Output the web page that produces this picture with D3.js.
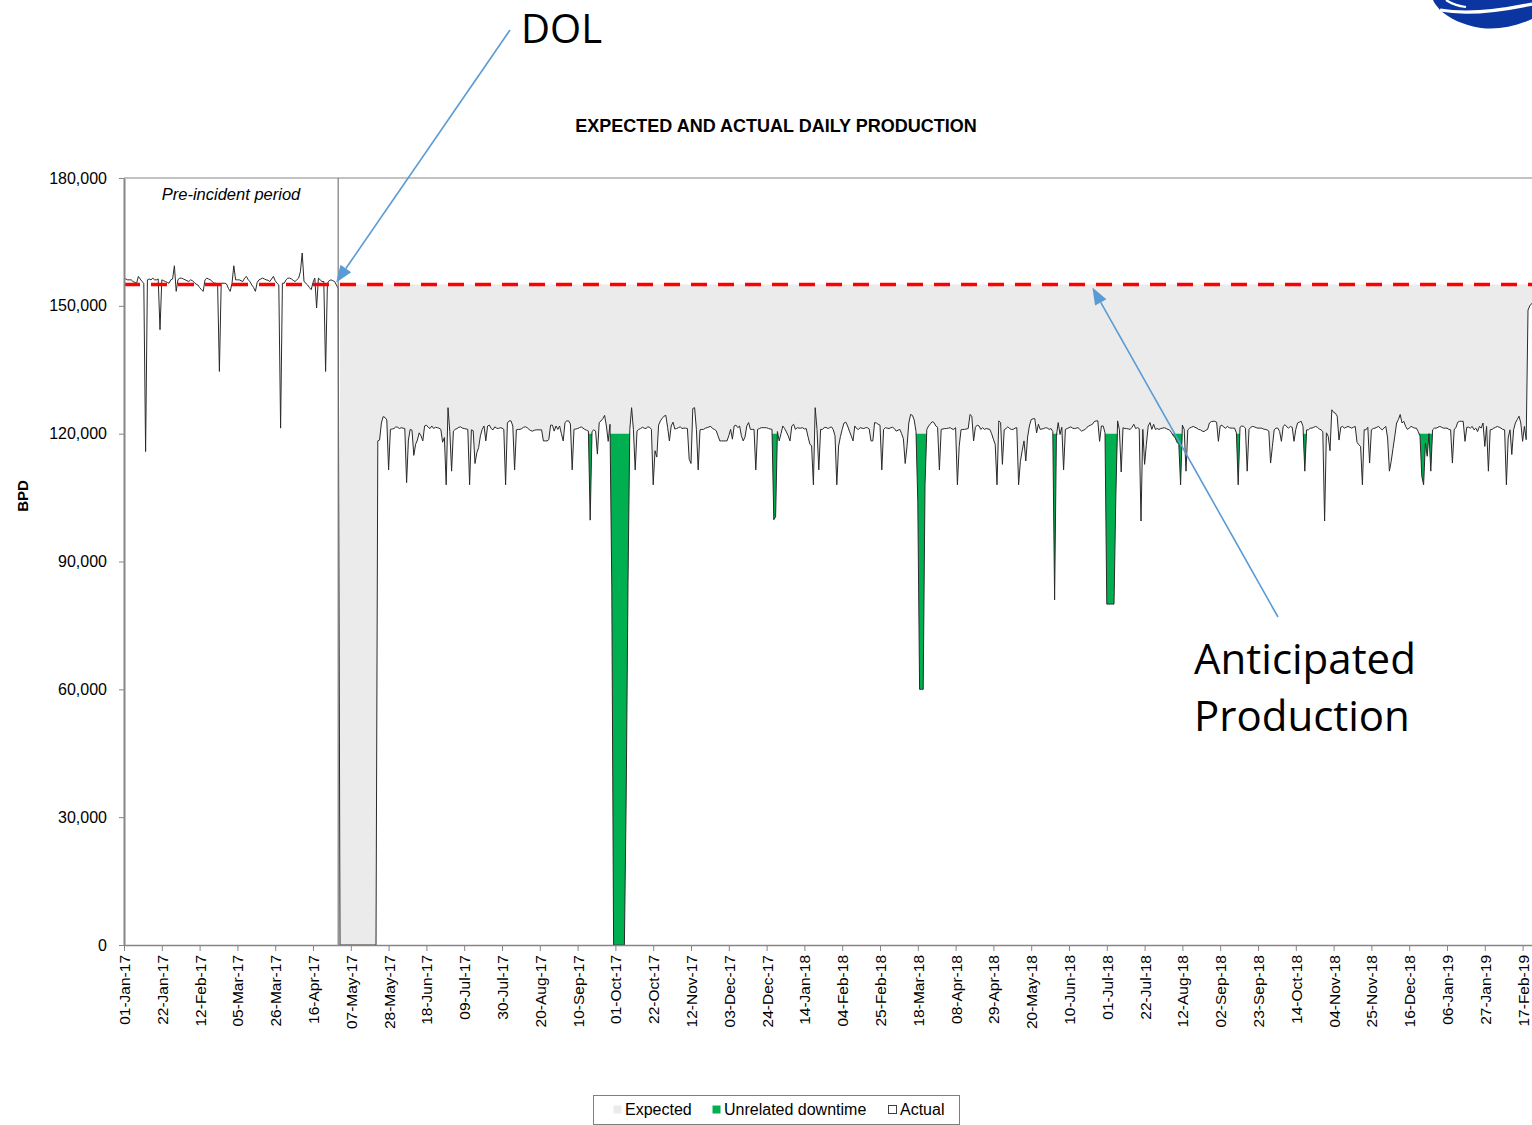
<!DOCTYPE html>
<html>
<head>
<meta charset="utf-8">
<script src="https://cdn.jsdelivr.net/npm/d3@7"></script>
<style>
  body { margin: 0; background: #fff; }
  svg { display: block; }
  text { font-family: "Liberation Sans", Arial, sans-serif; fill: #000; }
</style>
</head>
<body>
<svg id="chart" width="1532" height="1125"></svg>
<script>
// ---- data ----------------------------------------------------------------
const startDate = "01-Jan-17";

// Actual daily production, thousand barrels per day, one value per day from startDate
const actualKbpd = [
  156.5,156.3,156.1,156.1,156.1,155.7,155.5,155.3,156.9,156.3,155.7,155.3,115.8,156.1,156.3,156.1,156.5,156.1,156.1,156.3,
  144.4,156.1,155.9,155.7,155.5,155.3,156.1,156.3,159.4,153.4,156.2,156.5,156.5,156.3,156.1,155.9,155.7,156.1,155.9,155.5,
  155.1,154.9,154.3,153.8,153.4,156.1,156.5,156.3,156.1,155.7,155.3,155.3,155.1,134.6,155.3,155.3,155.3,155.1,154.1,153.4,
  155.3,159.4,156.1,156.1,156.1,155.9,155.7,156.5,156.9,156.1,155.7,154.9,154.3,153.4,155.5,156.1,156.3,156.5,156.3,156.1,
  156.0,155.7,156.3,156.9,155.9,155.3,154.9,121.3,155.3,155.3,156.1,156.5,156.5,156.3,156.0,155.7,156.1,156.5,158.0,162.4,
  155.7,155.3,154.9,154.3,153.8,155.5,156.5,149.5,156.5,156.1,155.7,155.7,134.6,155.3,155.9,156.1,155.9,155.7,154.9,154.1,
  0,0,0,0,0,0,0,0,0,0,0,0,0,0,0,0,0,0,0,0,0,
  118.3,118.5,122.5,124.0,123.8,123.2,111.5,121.0,121.1,121.2,121.6,121.5,121.2,121.4,121.3,121.2,108.5,118.5,121.0,120.8,
  114.9,117.5,118.5,120.2,119.5,118.3,121.8,122.0,121.5,121.2,121.8,121.2,121.5,121.4,121.3,121.0,118.0,119.1,108.0,126.1,
  120.5,111.2,120.6,121.0,121.2,121.5,121.6,121.3,121.2,121.1,121.0,108.0,120.9,120.7,113.0,115.5,116.7,119.5,121.0,121.8,
  118.3,121.8,122.0,121.2,120.9,121.6,121.3,121.2,121.4,121.3,121.0,108.0,122.5,123.0,123.0,121.8,111.5,120.9,121.0,121.0,
  121.2,121.5,121.6,121.4,121.0,120.7,120.6,120.8,120.9,120.9,120.9,120.9,118.3,118.3,118.3,118.6,122.0,122.0,120.6,121.8,
  121.0,121.8,120.0,118.3,122.6,123.0,123.0,122.3,111.5,121.0,121.1,121.2,121.4,121.6,121.3,121.0,120.8,120.6,99.7,120.5,
  120.9,120.6,115.2,122.6,123.0,123.5,124.3,121.8,118.2,122.2,84.0,0,0,0,0,0,0,0,35.0,85.0,
  121.0,126.1,121.0,111.5,120.6,121.0,121.2,121.5,121.3,121.2,121.6,121.5,121.0,108.0,116.0,114.5,122.0,123.0,123.6,124.1,
  124.3,121.5,118.3,121.8,122.7,121.1,121.2,121.4,121.6,121.2,121.3,121.3,121.2,114.0,113.0,125.9,126.1,121.0,111.5,120.9,
  121.0,121.0,121.3,121.4,121.6,121.7,121.2,121.0,120.7,119.5,118.3,118.3,118.3,118.3,118.3,119.5,121.0,118.7,121.8,122.0,
  121.4,121.8,119.5,118.3,119.2,121.8,122.6,121.0,121.0,121.0,111.5,121.0,121.2,121.4,121.4,121.4,121.4,121.2,121.1,121.0,
  99.8,100.5,120.5,118.3,120.0,121.8,121.2,120.4,119.5,118.3,121.8,122.2,121.0,121.4,121.3,121.3,121.4,121.1,121.2,119.3,
  117.6,117.1,108.0,126.1,121.0,111.5,121.0,121.0,121.4,121.5,121.2,121.4,121.6,121.0,119.5,108.0,117.1,119.3,121.0,122.5,
  122.7,121.8,120.6,119.5,118.3,121.8,121.2,121.0,121.4,121.3,121.2,121.4,121.4,121.1,118.3,118.3,122.6,122.5,122.2,122.0,
  111.5,121.0,121.4,121.3,121.2,121.4,121.5,121.2,120.6,120.8,121.0,120.0,118.8,113.0,117.0,122.5,124.5,124.3,123.2,120.5,
  104.0,60.0,60.0,60.0,108.0,121.0,121.8,122.3,122.8,122.6,121.8,121.5,111.5,121.0,121.1,121.2,121.2,121.3,121.4,121.1,
  121.0,121.4,108.0,117.0,120.9,121.0,121.0,121.1,121.2,124.5,124.1,118.3,121.5,122.0,121.8,121.0,121.4,121.0,121.2,121.1,
  121.0,120.0,118.7,117.5,108.0,123.0,122.6,112.8,120.9,121.2,121.6,121.2,121.0,121.0,121.3,121.4,108.0,113.5,116.0,118.3,
  113.6,119.2,121.8,123.3,123.5,123.5,120.2,122.2,121.0,121.1,121.2,121.4,121.3,121.0,121.2,120.5,81.0,119.5,122.6,119.8,
  121.5,111.5,121.0,121.2,121.4,121.6,121.3,121.2,121.3,121.4,121.0,120.6,120.8,121.0,121.5,121.8,122.0,122.2,122.8,123.0,
  123.0,118.2,121.8,121.8,120.2,80.0,80.0,80.0,80.0,80.0,105.0,123.0,120.9,111.0,121.4,121.2,121.2,121.1,121.0,121.5,
  122.2,121.2,121.4,121.2,99.5,121.0,112.8,117.5,121.8,122.6,121.0,122.2,121.0,121.2,121.0,121.2,121.3,121.4,121.2,121.0,
  120.8,120.2,119.5,119.0,118.0,117.5,108.0,122.0,121.0,111.2,120.9,121.3,121.5,121.7,121.5,121.3,121.0,120.9,120.6,120.5,
  120.8,121.0,122.5,122.8,122.9,122.9,122.7,118.2,121.8,122.0,121.5,121.3,121.7,121.4,121.3,121.3,121.3,120.2,108.0,121.5,
  121.8,121.7,121.3,111.2,121.0,121.5,121.7,121.6,121.4,121.3,121.3,121.3,121.1,121.0,120.9,120.6,113.1,117.0,120.9,121.3,
  121.3,120.5,118.2,121.7,122.1,121.6,121.3,121.7,121.5,118.2,121.0,122.5,122.7,122.9,121.7,111.2,120.9,120.9,121.3,121.3,
  121.5,121.7,121.5,121.1,120.9,120.5,99.5,120.2,119.4,116.0,125.6,125.0,124.8,124.1,118.5,121.5,121.7,121.3,121.5,121.7,
  121.5,121.3,121.5,121.7,118.0,117.4,117.0,108.0,120.9,120.9,121.5,113.1,120.9,121.2,121.3,121.5,121.7,121.2,120.9,121.3,
  121.7,119.0,111.2,113.5,116.5,119.4,122.5,123.3,124.5,122.5,122.9,121.7,121.0,121.3,121.7,121.5,121.3,121.3,120.5,119.5,
  110.0,108.0,117.8,114.7,120.0,111.2,120.9,121.3,121.3,121.5,121.7,121.5,121.3,121.3,121.3,121.0,120.9,113.1,120.9,121.5,
  122.7,122.9,122.9,122.9,118.2,121.5,121.5,121.3,121.7,120.9,121.3,120.5,121.7,121.3,122.5,117.0,121.7,111.2,120.9,121.0,
  121.3,121.5,121.7,121.5,121.3,121.0,120.9,108.0,119.0,120.9,115.1,120.9,122.5,123.3,124.1,122.5,118.2,121.7,118.6,149.0,
  150.0,150.5,151.0
];

const expectedBpd = 155000;        // expected rate after the incident
const anticipatedBpd = 155000;     // anticipated production (dashed)
const downtimeCeilingBpd = 120000; // level from which unrelated downtime is counted
const preIncidentEnd = "30-Apr-17";
const incidentDate = "01-May-17";

// Periods of downtime not related to the incident
const unrelatedDowntimeSpans = [
  ["16-Sep-17", "18-Sep-17"],
  ["28-Sep-17", "09-Oct-17"],
  ["27-Dec-17", "30-Dec-17"],
  ["17-Mar-18", "23-Mar-18"],
  ["01-Jun-18", "04-Jun-18"],
  ["30-Jun-18", "07-Jul-18"],
  ["05-Aug-18", "12-Aug-18"],
  ["11-Sep-18", "13-Sep-18"],
  ["18-Oct-18", "20-Oct-18"],
  ["20-Dec-18", "29-Dec-18"]
];

const xTickLabels = [
  "01-Jan-17","22-Jan-17","12-Feb-17","05-Mar-17","26-Mar-17","16-Apr-17","07-May-17","28-May-17",
  "18-Jun-17","09-Jul-17","30-Jul-17","20-Aug-17","10-Sep-17","01-Oct-17","22-Oct-17","12-Nov-17",
  "03-Dec-17","24-Dec-17","14-Jan-18","04-Feb-18","25-Feb-18","18-Mar-18","08-Apr-18","29-Apr-18",
  "20-May-18","10-Jun-18","01-Jul-18","22-Jul-18","12-Aug-18","02-Sep-18","23-Sep-18","14-Oct-18",
  "04-Nov-18","25-Nov-18","16-Dec-18","06-Jan-19","27-Jan-19","17-Feb-19"
];
const yTickValues = [0, 30000, 60000, 90000, 120000, 150000, 180000];

const legendItems = [
  { label: "Expected", fill: "#ebebeb", stroke: "none" },
  { label: "Unrelated downtime", fill: "#00b050", stroke: "none" },
  { label: "Actual", fill: "#ffffff", stroke: "#404040" }
];

// ---- setup ---------------------------------------------------------------
const parse = d3.utcParse("%d-%b-%y");
const fmtDate = d3.utcFormat("%d-%b-%y");
const t0 = parse(startDate);
const series = actualKbpd.map((v, i) => ({ date: d3.utcDay.offset(t0, i), bpd: v * 1000 }));

const svg = d3.select("#chart");
const W = 1532, H = 1125;
const plot = { left: 124, right: 1532, top: 178, bottom: 945 };
const GRID = "#868686";
const GREEN = "#00b050";
const GREY_FILL = "#ebebeb";

svg.append("rect").attr("width", W).attr("height", H).attr("fill", "#fff");

const tickDates = xTickLabels.map(parse);
const x = d3.scaleUtc()
  .domain([tickDates[0], tickDates[tickDates.length - 1]])
  .range([plot.left, 1522.6]);
const y = d3.scaleLinear().domain([0, 180000]).range([plot.bottom, plot.top]);

svg.append("clipPath").attr("id", "plotClip")
  .append("rect")
  .attr("x", plot.left).attr("y", plot.top - 10)
  .attr("width", plot.right - plot.left + 10).attr("height", plot.bottom - plot.top + 10);

const g = svg.append("g").attr("clip-path", "url(#plotClip)");

// Expected production after the incident
const incident = parse(incidentDate);
const afterIncident = series.filter(d => d.date >= incident);
g.append("path")
  .datum(afterIncident)
  .attr("fill", GREY_FILL)
  .attr("d", d3.area().x(d => x(d.date)).y0(y(0)).y1(y(expectedBpd)));

// Actual production (white area hides the expected fill below it)
g.append("path")
  .datum(series)
  .attr("fill", "#fff")
  .attr("d", d3.area().x(d => x(d.date)).y0(y(0)).y1(d => y(d.bpd)));

// Unrelated downtime between actual and the ceiling
const downtimeArea = d3.area()
  .x(d => x(d.date))
  .y0(d => y(Math.min(d.bpd, downtimeCeilingBpd)))
  .y1(y(downtimeCeilingBpd));
unrelatedDowntimeSpans.forEach(([a, b]) => {
  const s = parse(a), e = parse(b);
  g.append("path")
    .datum(series.filter(d => d.date >= s && d.date <= e))
    .attr("fill", GREEN)
    .attr("d", downtimeArea);
});

// Actual line
g.append("path")
  .datum(series)
  .attr("fill", "none")
  .attr("stroke", "#2a2a2a")
  .attr("stroke-width", 1)
  .attr("stroke-linejoin", "round")
  .attr("d", d3.line().x(d => x(d.date)).y(d => y(d.bpd)));

// Pre-incident separator
const sepX = x(parse(preIncidentEnd));
svg.append("line")
  .attr("x1", sepX).attr("x2", sepX)
  .attr("y1", plot.top).attr("y2", plot.bottom)
  .attr("stroke", "#7a7a7a").attr("stroke-width", 1.2);

// Anticipated production
g.append("line")
  .attr("x1", x(series[0].date)).attr("x2", x(series[series.length - 1].date))
  .attr("y1", y(anticipatedBpd)).attr("y2", y(anticipatedBpd))
  .attr("stroke", "#ff0000").attr("stroke-width", 3.6)
  .attr("stroke-dasharray", "16 11");

// Frame top line
svg.append("line")
  .attr("x1", plot.left).attr("x2", plot.right)
  .attr("y1", plot.top).attr("y2", plot.top)
  .attr("stroke", GRID).attr("stroke-width", 1.2);

// ---- axes ----------------------------------------------------------------
const xAxis = svg.append("g")
  .attr("transform", `translate(0,${plot.bottom})`)
  .call(d3.axisBottom(x).tickValues(tickDates).tickFormat(fmtDate).tickSize(6).tickSizeOuter(0));
xAxis.select(".domain").attr("stroke", GRID).attr("stroke-width", 1.5)
  .attr("d", `M${plot.left},0.5H${plot.right}`);
xAxis.selectAll(".tick line").attr("stroke", GRID);
xAxis.selectAll(".tick text")
  .attr("transform", "rotate(-90)")
  .attr("x", -10).attr("y", 0).attr("dy", "0.36em")
  .style("text-anchor", "end")
  .style("font-size", "15.5px")
  .style("font-family", '"Liberation Sans", Arial, sans-serif')
  .attr("fill", "#000");

const yAxis = svg.append("g")
  .attr("transform", `translate(${plot.left},0)`)
  .call(d3.axisLeft(y).tickValues(yTickValues).tickFormat(d3.format(",")).tickSize(5).tickPadding(12).tickSizeOuter(0));
yAxis.select(".domain").attr("stroke", GRID).attr("stroke-width", 2);
yAxis.selectAll(".tick line").attr("stroke", GRID);
yAxis.selectAll(".tick text")
  .style("font-size", "16px")
  .style("font-family", '"Liberation Sans", Arial, sans-serif')
  .attr("fill", "#000");

// ---- texts ---------------------------------------------------------------
svg.append("text")
  .attr("x", 776).attr("y", 132)
  .attr("text-anchor", "middle")
  .style("font-size", "18px").style("font-weight", "bold")
  .text("EXPECTED AND ACTUAL DAILY PRODUCTION");

svg.append("text")
  .attr("transform", "translate(28,496) rotate(-90)")
  .attr("text-anchor", "middle")
  .style("font-size", "15px").style("font-weight", "bold")
  .text("BPD");

svg.append("text")
  .attr("x", 231).attr("y", 200)
  .attr("text-anchor", "middle")
  .style("font-size", "16.5px").style("font-style", "italic")
  .text("Pre-incident period");

// ---- legend --------------------------------------------------------------
const lg = svg.append("g");
lg.append("rect")
  .attr("x", 593.5).attr("y", 1095.5).attr("width", 366).attr("height", 29)
  .attr("fill", "#fff").attr("stroke", "#7f7f7f");
const legendX = [613, 712, 888];
legendItems.forEach((it, i) => {
  lg.append("rect")
    .attr("x", legendX[i] + 0.5).attr("y", 1105.5).attr("width", 8).attr("height", 8)
    .attr("fill", it.fill).attr("stroke", it.stroke);
  lg.append("text")
    .attr("x", legendX[i] + 12).attr("y", 1115)
    .style("font-size", "16px")
    .text(it.label);
});

// ---- annotations ---------------------------------------------------------
const ARROW = "#5b9bd5";
function arrow(x1, y1, x2, y2) {
  const ang = Math.atan2(y2 - y1, x2 - x1);
  const len = 17, hw = 6.5;
  const bx = x2 - len * Math.cos(ang), by = y2 - len * Math.sin(ang);
  svg.append("line")
    .attr("x1", x1).attr("y1", y1).attr("x2", bx).attr("y2", by)
    .attr("stroke", ARROW).attr("stroke-width", 1.6);
  const px = -Math.sin(ang) * hw, py = Math.cos(ang) * hw;
  svg.append("path")
    .attr("d", `M${x2},${y2}L${bx + px},${by + py}L${bx - px},${by - py}Z`)
    .attr("fill", ARROW);
}
arrow(510, 30, sepX - 2, y(anticipatedBpd) - 2);
arrow(1278, 617, x(parse("23-Jun-18")), y(anticipatedBpd) + 3);

const bigFont = '"Open Sans", "Noto Sans", sans-serif';
svg.append("text").attr("x", 521).attr("y", 43)
  .style("font-family", bigFont).style("font-size", "40px").text("DOL");
svg.append("text").attr("x", 1194).attr("y", 674)
  .style("font-family", bigFont).style("font-size", "42px").text("Anticipated");
svg.append("text").attr("x", 1194).attr("y", 731)
  .style("font-family", bigFont).style("font-size", "42px").text("Production");

// ---- logo corner ---------------------------------------------------------
const logo = svg.append("g");
logo.append("path")
  .attr("d", "M1433,0 L1532,0 L1532,19 C1515,27 1497,30 1481,28 C1462,25 1449,18 1440,10 C1437,6 1434,3 1433,0 Z")
  .attr("fill", "#0b35a0");
logo.append("path")
  .attr("d", "M1440,10 C1462,14 1490,13 1532,4")
  .attr("fill", "none").attr("stroke", "#fff").attr("stroke-width", 3.2);
logo.append("path")
  .attr("d", "M1446,0 C1452,4 1458,6 1466,7")
  .attr("fill", "none").attr("stroke", "#fff").attr("stroke-width", 2.2);
</script>
</body>
</html>
